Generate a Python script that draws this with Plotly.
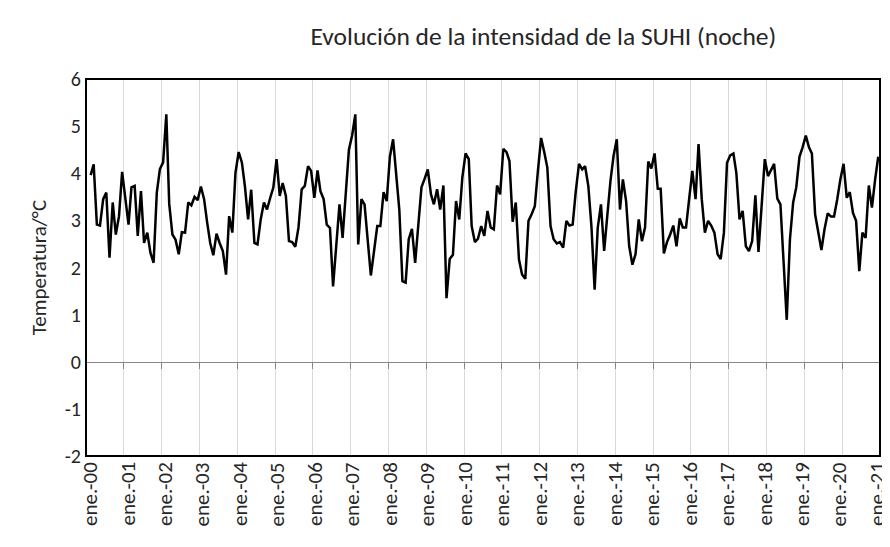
import pandas as pd
import plotly.graph_objects as go

# monthly night SUHI intensity, feb-2000 .. dic-2020
suhi_noche = [
    3.96, 4.19, 2.91, 2.89, 3.45, 3.59, 2.21, 3.38, 2.70, 3.09, 4.03, 3.45,
    2.91, 3.70, 3.73, 2.67, 3.62, 2.52, 2.74, 2.31, 2.10, 3.59, 4.09, 4.23,
    5.25, 3.35, 2.70, 2.59, 2.28, 2.75, 2.74, 3.38, 3.32, 3.50, 3.43, 3.72,
    3.45, 2.98, 2.52, 2.26, 2.72, 2.52, 2.35, 1.85, 3.09, 2.74, 4.01, 4.45,
    4.23, 3.73, 3.02, 3.65, 2.52, 2.49, 3.02, 3.38, 3.23, 3.48, 3.70, 4.30,
    3.52, 3.79, 3.52, 2.56, 2.54, 2.44, 2.85, 3.66, 3.73, 4.15, 4.05, 3.48,
    4.06, 3.62, 3.45, 2.91, 2.84, 1.60, 2.45, 3.34, 2.63, 3.52, 4.50, 4.80,
    5.25, 2.49, 3.45, 3.34, 2.60, 1.83, 2.35, 2.88, 2.88, 3.60, 3.41, 4.35,
    4.72, 3.94, 3.23, 1.71, 1.68, 2.60, 2.82, 2.10, 2.85, 3.70, 3.88, 4.08,
    3.55, 3.34, 3.66, 3.23, 3.74, 1.35, 2.18, 2.27, 3.41, 3.02, 3.91, 4.42,
    4.30, 2.88, 2.54, 2.61, 2.88, 2.67, 3.20, 2.85, 2.81, 3.74, 3.55, 4.52,
    4.45, 4.26, 2.97, 3.38, 2.17, 1.85, 1.76, 2.99, 3.13, 3.30, 4.05, 4.75,
    4.44, 4.12, 2.88, 2.60, 2.51, 2.54, 2.42, 2.99, 2.89, 2.91, 3.62, 4.20,
    4.08, 4.15, 3.73, 2.88, 1.53, 2.84, 3.34, 2.35, 3.09, 3.84, 4.37, 4.72,
    3.23, 3.87, 3.41, 2.45, 2.06, 2.28, 3.02, 2.56, 2.85, 4.25, 4.10, 4.42,
    3.67, 3.67, 2.30, 2.54, 2.70, 2.89, 2.45, 3.04, 2.85, 2.85, 3.45, 4.05,
    3.45, 4.62, 3.45, 2.74, 2.99, 2.89, 2.74, 2.28, 2.18, 2.74, 4.22, 4.38,
    4.42, 4.01, 3.02, 3.20, 2.45, 2.35, 2.56, 3.53, 2.33, 3.30, 4.30, 3.94,
    4.08, 4.20, 3.46, 3.34, 2.10, 0.89, 2.60, 3.38, 3.70, 4.35, 4.55, 4.80,
    4.55, 4.42, 3.13, 2.77, 2.37, 2.81, 3.15, 3.08, 3.08, 3.45, 3.87, 4.20,
    3.48, 3.60, 3.16, 2.99, 1.92, 2.74, 2.63, 3.74, 3.27, 3.87, 4.35,
]
fechas = pd.date_range("2000-02-01", periods=len(suhi_noche), freq="MS") + pd.Timedelta(days=14)

anios = list(range(2000, 2022))
tick_fechas = [pd.Timestamp(f"{a}-01-01") for a in anios]
tick_textos = [f"ene.-{a % 100:02d}" for a in anios]

y_ticks = list(range(-2, 7))
y_textos = [str(v) for v in y_ticks]  # plain hyphen, like the original

font_family = "Carlito, Lato, Liberation Sans, sans-serif"
text_color = "#262626"

fig = go.Figure()

fig.add_trace(go.Scatter(
    x=fechas, y=suhi_noche, mode="lines",
    line=dict(color="black", width=2.5),
    showlegend=False,
))

# dummy trace on the secondary x axis so it gets drawn (ticks on the zero line)
fig.add_trace(go.Scatter(
    x=[tick_fechas[0], tick_fechas[-1]], y=[None, None],
    xaxis="x2", mode="lines", showlegend=False, hoverinfo="skip",
))

# plot frame
fig.add_shape(
    type="rect", xref="paper", yref="paper", x0=0, x1=1, y0=0, y1=1,
    line=dict(color="black", width=2), layer="above",
)

# x labels as rotated annotations, nudged a little inwards at the ends
# so the first and last ones stay inside the picture (as in the original)
n = len(tick_fechas) - 1
for i, (fecha, texto) in enumerate(zip(tick_fechas, tick_textos)):
    fig.add_annotation(
        x=fecha, y=0, xref="x", yref="paper",
        text=texto, textangle=-90, showarrow=False,
        xanchor="center", yanchor="top",
        xshift=4 - 7 * i / n, yshift=-4,
        font=dict(size=21, color=text_color),
    )

# the page body adds an 8px margin, so the figure is a bit smaller than the window
fig.update_layout(
    width=882, height=539,
    margin=dict(l=78, r=10, t=71, b=91),
    paper_bgcolor="white", plot_bgcolor="white",
    font=dict(family=font_family, color="black"),
    title=dict(
        text="Evolución de la intensidad de la SUHI (noche)",
        x=0.607, xref="container", xanchor="center",
        y=0.948, yref="container", yanchor="middle",
        font=dict(size=25.5, color=text_color),
    ),
    xaxis=dict(
        type="date", automargin=False,
        range=[tick_fechas[0], tick_fechas[-1]],
        tickvals=tick_fechas, showticklabels=False,
        showgrid=True, gridcolor="#d9d9d9", gridwidth=1,
        showline=False, ticks="", zeroline=False,
    ),
    xaxis2=dict(
        type="date", overlaying="x", anchor="free", position=0.25,
        range=[tick_fechas[0], tick_fechas[-1]],
        tickvals=tick_fechas, showticklabels=False,
        ticks="outside", ticklen=6, tickcolor="#868686", tickwidth=1,
        showline=True, linecolor="#868686", linewidth=1,
        showgrid=False, zeroline=False,
    ),
    yaxis=dict(
        range=[-2, 6], automargin=False,
        tickvals=y_ticks, ticktext=y_textos, ticklabelstandoff=4,
        tickfont=dict(size=20, color=text_color),
        title=dict(text="Temperatura/°C", font=dict(size=21, color=text_color), standoff=12),
        showgrid=False, zeroline=False, showline=False, ticks="",
    ),
)

fig.write_html("out.html")
